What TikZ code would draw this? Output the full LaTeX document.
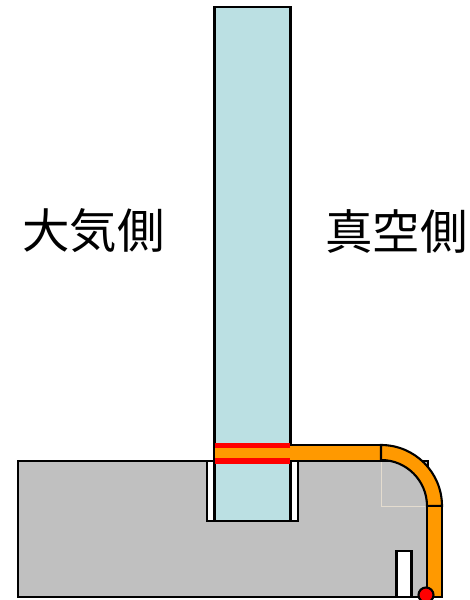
\documentclass[tikz,border=0pt]{standalone}
\usepackage{fontspec}
\newfontfamily\cjk{Noto Sans CJK JP}
\definecolor{glass}{HTML}{BBE0E3}
\definecolor{flange}{HTML}{C0C0C0}
\definecolor{seal}{HTML}{FF9900}
\definecolor{guide}{HTML}{E4DCCF}
\tikzstyle{part}=[draw=black, line width=1.2pt]
\tikzstyle{sidelabel}=[font=\cjk\fontsize{27pt}{27pt}\selectfont, inner sep=0]
\begin{document}
\begin{tikzpicture}[x=0.02cm, y=0.02cm]
\useasboundingbox (0,0) rectangle (470,600);
\draw[part, fill=flange] (18,3) rectangle (428,139);
\draw[part, fill=white] (207,79) rectangle (298,139);
\draw[part, fill=white] (396.5,3) rectangle (411.5,49);
\draw[part, fill=glass] (214.5,79) rectangle (290.5,593);
% sealing band across the glass
\fill[seal] (215,142) rectangle (290,152);
\fill[red] (215,152) rectangle (290,157);
\fill[red] (215,136) rectangle (290,142);
% thin guide lines of the bend
\draw[guide, line width=.4pt] (381,139)--(381,94)--(427,94);
% band leading to the vacuum side
\draw[part, fill=seal] (290,155)--(381,155)--(381,139)--(290,139);
\draw[part, fill=seal] (381,155) arc (90:0:61)--(427,94) arc (0:90:46)--cycle;
\draw[part, fill=seal] (427,94) rectangle (442,3);
\draw[part, fill=red] (426,5) node[shape=circle, minimum size=.3cm, inner sep=0, draw, fill=red](valve){};
\node[sidelabel] (air) at (93.5,369) {大気側};
\node[sidelabel] (vacuum) at (396.5,369) {真空側};
\end{tikzpicture}
\end{document}
